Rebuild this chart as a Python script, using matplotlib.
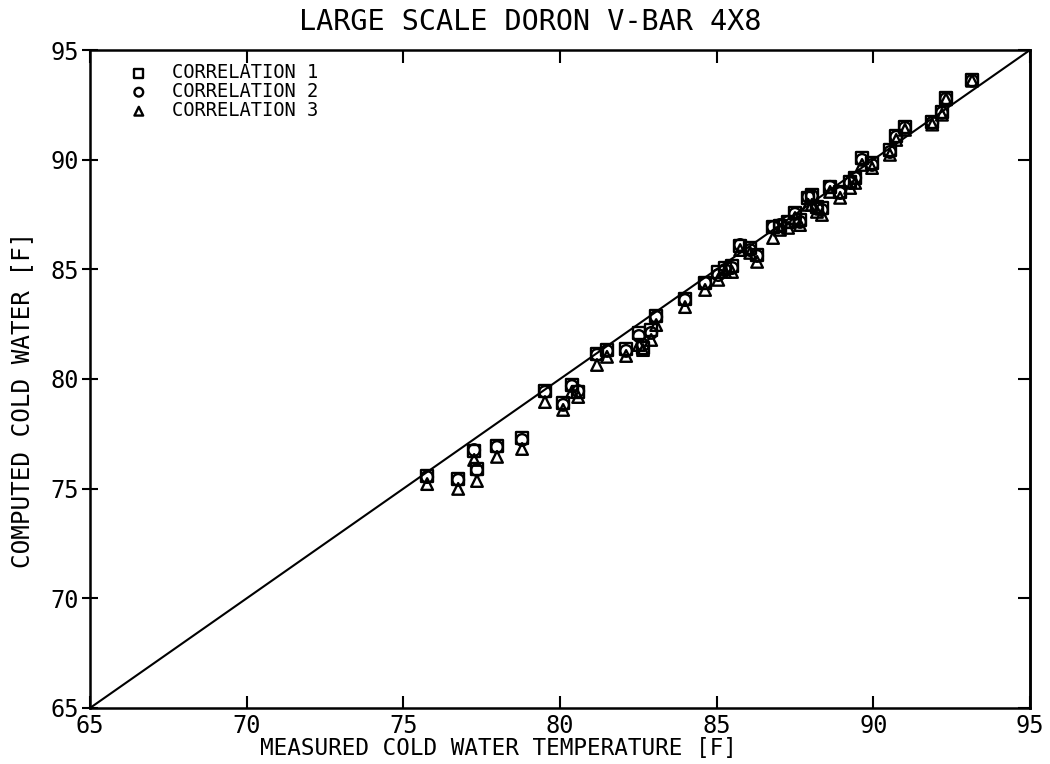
import matplotlib
matplotlib.use('Agg')
import matplotlib.pyplot as plt
import numpy as np

# measured cold water temperature [F]
x = np.array([75.76, 76.75, 77.26, 77.35, 77.99, 78.79, 79.52, 80.10, 80.38, 80.58,
              81.18, 81.50, 82.11, 82.52, 82.65, 82.91, 83.07, 83.99, 84.63, 85.05,
              85.27, 85.49, 85.75, 86.07, 86.29, 86.80, 87.02, 87.28, 87.50, 87.66,
              87.92, 88.04, 88.20, 88.36, 88.62, 88.94, 89.26, 89.42, 89.64, 89.96,
              90.53, 90.73, 91.01, 91.88, 92.19, 92.32, 93.15])

# computed cold water, correlation 1 / 2 / 3
y1 = np.array([75.58, 75.44, 76.72, 75.90, 76.95, 77.31, 79.45, 78.91, 79.73, 79.41,
               81.14, 81.32, 81.37, 82.10, 81.41, 82.24, 82.87, 83.65, 84.38, 84.88,
               85.06, 85.15, 86.07, 85.98, 85.66, 86.93, 86.98, 87.16, 87.57, 87.25,
               88.26, 88.39, 87.85, 87.80, 88.76, 88.53, 88.99, 89.17, 90.08, 89.85,
               90.44, 91.08, 91.49, 91.72, 92.18, 92.82, 93.64])
y2 = np.array([75.53, 75.40, 76.76, 75.85, 76.90, 77.22, 79.41, 78.82, 79.68, 79.45,
               81.10, 81.28, 81.28, 81.96, 81.55, 82.10, 82.83, 83.60, 84.38, 84.74,
               84.97, 85.06, 86.11, 85.88, 85.61, 86.93, 87.02, 87.16, 87.53, 87.16,
               88.30, 88.35, 87.76, 87.71, 88.76, 88.48, 88.94, 89.17, 89.99, 89.76,
               90.35, 91.04, 91.45, 91.68, 92.14, 92.78, 93.60])
y3 = np.array([75.21, 74.99, 76.31, 75.35, 76.45, 76.81, 78.95, 78.59, 79.41, 79.18,
               80.64, 81.01, 81.05, 81.55, 81.32, 81.78, 82.46, 83.28, 84.06, 84.52,
               84.88, 84.88, 85.88, 85.75, 85.34, 86.43, 86.80, 86.89, 87.34, 87.02,
               87.94, 87.94, 87.62, 87.48, 88.53, 88.26, 88.71, 88.94, 89.76, 89.62,
               90.22, 90.90, 91.36, 91.60, 92.05, 92.75, 93.60])

ticks = [65, 70, 75, 80, 85, 90, 95]
labels = ['CORRELATION 1', 'CORRELATION 2', 'CORRELATION 3']

plt.rcParams['font.family'] = 'DejaVu Sans Mono'

fig = plt.figure(figsize=(10.5, 7.64), dpi=100)
ax = fig.add_axes([90/1050, 1-708/764, 940/1050, 658/764])

ax.plot([65, 95], [65, 95], color='black', lw=1.5)
ax.scatter(x, y1, marker='s', s=70, facecolors='none', edgecolors='black', linewidths=1.7, label=labels[0])
ax.scatter(x, y2, marker='o', s=70, facecolors='none', edgecolors='black', linewidths=1.7, label=labels[1])
ax.scatter(x, y3, marker='^', s=70, facecolors='none', edgecolors='black', linewidths=1.7, label=labels[2])

ax.set_xlim(65, 95)
ax.set_ylim(65, 95)
ax.set_xticks(ticks)
ax.set_yticks(ticks)
ax.tick_params(axis='x', direction='in', length=9, width=1.5, labelsize=17, top=True, pad=4)
ax.tick_params(axis='y', direction='inout', length=12, width=1.5, labelsize=17, right=False, pad=2)
# right side ticks point inward only
ax_r = ax.secondary_yaxis('right')
ax_r.set_yticks(ticks)
ax_r.tick_params(direction='in', length=9, width=1.5, labelright=False)
for s in ax.spines.values():
    s.set_linewidth(1.8)
ax_r.spines['right'].set_linewidth(1.8)

fig.text(530/1050, 1-22/764, 'LARGE SCALE DORON V-BAR 4X8', ha='center', va='center', fontsize=20.5)
fig.text(498/1050, 1-748/764, 'MEASURED COLD WATER TEMPERATURE [F]', ha='center', va='center', fontsize=16.3)
fig.text(22/1050, 1-400/764, 'COMPUTED COLD WATER [F]', ha='center', va='center', fontsize=17.5, rotation=90)

ax.legend(loc='upper left', bbox_to_anchor=(0.018, 1.0), frameon=False, fontsize=13.5,
          markerscale=0.75, handletextpad=0.75, labelspacing=0.0, borderpad=0.2)

fig.savefig('out.png', dpi=100)
